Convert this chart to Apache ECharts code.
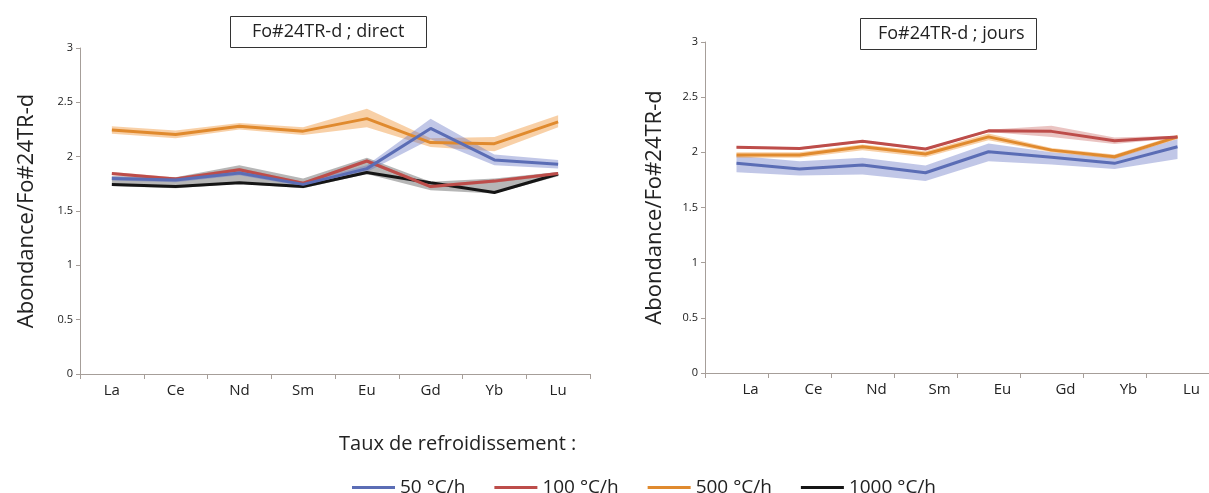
<!doctype html>
<html>
    <head>
        <meta charset="utf-8">
        <title>Fo#24TR-d</title>
        <style>
            html, body { margin: 0; padding: 0; background: #fff; }
            #main { width: 1209px; height: 493px; }
        </style>
    </head>
    <body>
        <div id="main"></div>
        <script src="https://cdn.jsdelivr.net/npm/echarts@6/dist/echarts.min.js"></script>
        <script>
            var categories = ['La', 'Ce', 'Nd', 'Sm', 'Eu', 'Gd', 'Yb', 'Lu'];
            var rateNames = ['50 °C/h', '100 °C/h', '500 °C/h', '1000 °C/h'];

            // Fo#24TR-d ; direct
            var direct50 = [1.80, 1.785, 1.85, 1.745, 1.89, 2.26, 1.97, 1.93];
            var direct50Low = [1.78, 1.765, 1.83, 1.725, 1.86, 2.16, 1.92, 1.89];
            var direct50High = [1.82, 1.805, 1.87, 1.765, 1.92, 2.35, 2.02, 1.97];
            var direct100 = [1.845, 1.795, 1.88, 1.755, 1.96, 1.725, 1.775, 1.845];
            var direct100Low = [1.83, 1.78, 1.865, 1.74, 1.945, 1.71, 1.76, 1.83];
            var direct100High = [1.86, 1.81, 1.895, 1.77, 1.975, 1.74, 1.79, 1.86];
            var direct500 = [2.245, 2.205, 2.28, 2.235, 2.35, 2.13, 2.12, 2.32];
            var direct500Low = [2.21, 2.17, 2.25, 2.20, 2.27, 2.09, 2.05, 2.27];
            var direct500High = [2.28, 2.24, 2.31, 2.27, 2.44, 2.17, 2.18, 2.38];
            var direct1000 = [1.745, 1.725, 1.76, 1.725, 1.855, 1.76, 1.67, 1.84];
            var direct1000Low = [1.73, 1.71, 1.75, 1.71, 1.84, 1.69, 1.66, 1.82];
            var direct1000High = [1.82, 1.81, 1.92, 1.80, 1.99, 1.77, 1.80, 1.86];

            // Fo#24TR-d ; jours
            var jours50 = [1.90, 1.85, 1.885, 1.815, 2.005, 1.955, 1.90, 2.05];
            var jours50Low = [1.82, 1.79, 1.80, 1.74, 1.92, 1.89, 1.85, 1.94];
            var jours50High = [1.97, 1.92, 1.95, 1.88, 2.08, 2.00, 1.95, 2.12];
            var jours100 = [2.045, 2.035, 2.10, 2.03, 2.195, 2.19, 2.105, 2.14];
            var jours100Low = [2.035, 2.025, 2.09, 2.02, 2.185, 2.14, 2.075, 2.13];
            var jours100High = [2.055, 2.045, 2.11, 2.04, 2.205, 2.24, 2.135, 2.15];
            var jours500 = [1.975, 1.975, 2.05, 1.985, 2.14, 2.02, 1.96, 2.14];
            var jours500Low = [1.95, 1.95, 2.02, 1.955, 2.11, 2.00, 1.94, 2.12];
            var jours500High = [2.00, 2.00, 2.07, 2.01, 2.17, 2.04, 1.98, 2.16];

            var lineColors = ['#5b6db5', '#bd4d4a', '#e08a2e', '#151515'];
            var bandColors = ['rgba(100,115,195,0.4)', 'rgba(195,85,80,0.35)',
                              'rgba(240,150,60,0.45)', 'rgba(110,110,110,0.5)'];

            var font = '"Open Sans", "Noto Sans", sans-serif';

            // band = invisible lower line + stacked difference filled as area
            function band(idx, key, low, high, color) {
                var diff = high.map(function (h, i) { return +(h - low[i]).toFixed(3); });
                var common = {
                    type: 'line', xAxisIndex: idx, yAxisIndex: idx,
                    stack: key, symbol: 'none', silent: true,
                    lineStyle: { opacity: 0 }, z: 1
                };
                return [
                    Object.assign({ name: key + '-low', data: low }, common),
                    Object.assign({ name: key + '-band', data: diff,
                        areaStyle: { color: color, opacity: 1 } }, common)
                ];
            }

            function line(idx, k, data) {
                return {
                    name: rateNames[k], type: 'line', xAxisIndex: idx, yAxisIndex: idx,
                    data: data, symbol: 'none', z: 3,
                    color: lineColors[k],
                    lineStyle: { color: lineColors[k], width: 3 }
                };
            }

            function xAxis(idx, pad) {
                return {
                    type: 'category', gridIndex: idx, data: categories, boundaryGap: true,
                    axisLine: { lineStyle: { color: '#a69e99', width: 1 } },
                    axisTick: { show: true, length: 5, lineStyle: { color: '#a69e99' } },
                    axisLabel: { fontSize: 15, color: '#222', fontFamily: font, margin: 9,
                                 padding: pad }
                };
            }

            function yAxis(idx, gap) {
                return {
                    type: 'value', gridIndex: idx, min: 0, max: 3, interval: 0.5,
                    name: 'Abondance/Fo#24TR-d', nameLocation: 'middle', nameGap: gap,
                    nameTextStyle: { fontSize: 22, color: '#222', fontFamily: font },
                    axisLine: { show: true, lineStyle: { color: '#a69e99', width: 1 } },
                    axisTick: { show: true, length: 4, lineStyle: { color: '#a69e99' } },
                    axisLabel: { fontSize: 11, color: '#222', fontFamily: font, margin: 7 },
                    splitLine: { show: false }
                };
            }

            var series = []
                .concat(band(0, 'd500', direct500Low, direct500High, bandColors[2]))
                .concat(band(0, 'd1000', direct1000Low, direct1000High, bandColors[3]))
                .concat(band(0, 'd50', direct50Low, direct50High, bandColors[0]))
                .concat(band(0, 'd100', direct100Low, direct100High, bandColors[1]))
                .concat(band(1, 'j50', jours50Low, jours50High, bandColors[0]))
                .concat(band(1, 'j500', jours500Low, jours500High, bandColors[2]))
                .concat(band(1, 'j100', jours100Low, jours100High, bandColors[1]))
                .concat([
                    line(0, 2, direct500),
                    line(0, 3, direct1000),
                    line(0, 1, direct100),
                    line(0, 0, direct50),
                    line(1, 0, jours50),
                    line(1, 2, jours500),
                    line(1, 1, jours100)
                ]);

            var chart = echarts.init(document.getElementById('main'));
            chart.setOption({
                animation: false,
                backgroundColor: '#fff',
                title: [{
                    text: 'Fo#24TR-d ; direct', left: 230, top: 16,
                    borderColor: '#333', borderWidth: 1, padding: [7, 22, 7, 22],
                    textStyle: { fontSize: 18, fontWeight: 'normal', color: '#222', fontFamily: font }
                }, {
                    text: 'Fo#24TR-d ; jours', left: 860, top: 18,
                    borderColor: '#333', borderWidth: 1, padding: [7, 12, 7, 18],
                    textStyle: { fontSize: 18, fontWeight: 'normal', color: '#222', fontFamily: font }
                }, {
                    text: 'Taux de refroidissement :', left: 334, top: 429,
                    textStyle: { fontSize: 20, fontWeight: 'normal', color: '#222', fontFamily: font }
                }],
                legend: {
                    data: rateNames, left: 347, top: 473,
                    icon: 'rect', itemWidth: 43, itemHeight: 3, itemGap: 29,
                    textStyle: { fontSize: 19, color: '#222', fontFamily: font }
                },
                grid: [
                    { left: 80, right: 619, top: 48, bottom: 119 },
                    { left: 705, right: 0, top: 42, bottom: 120 }
                ],
                xAxis: [xAxis(0, 0), xAxis(1, [0, 0, 0, 28])],
                yAxis: [yAxis(0, 42), yAxis(1, 39)],
                series: series
            });
        </script>
    </body>
</html>
